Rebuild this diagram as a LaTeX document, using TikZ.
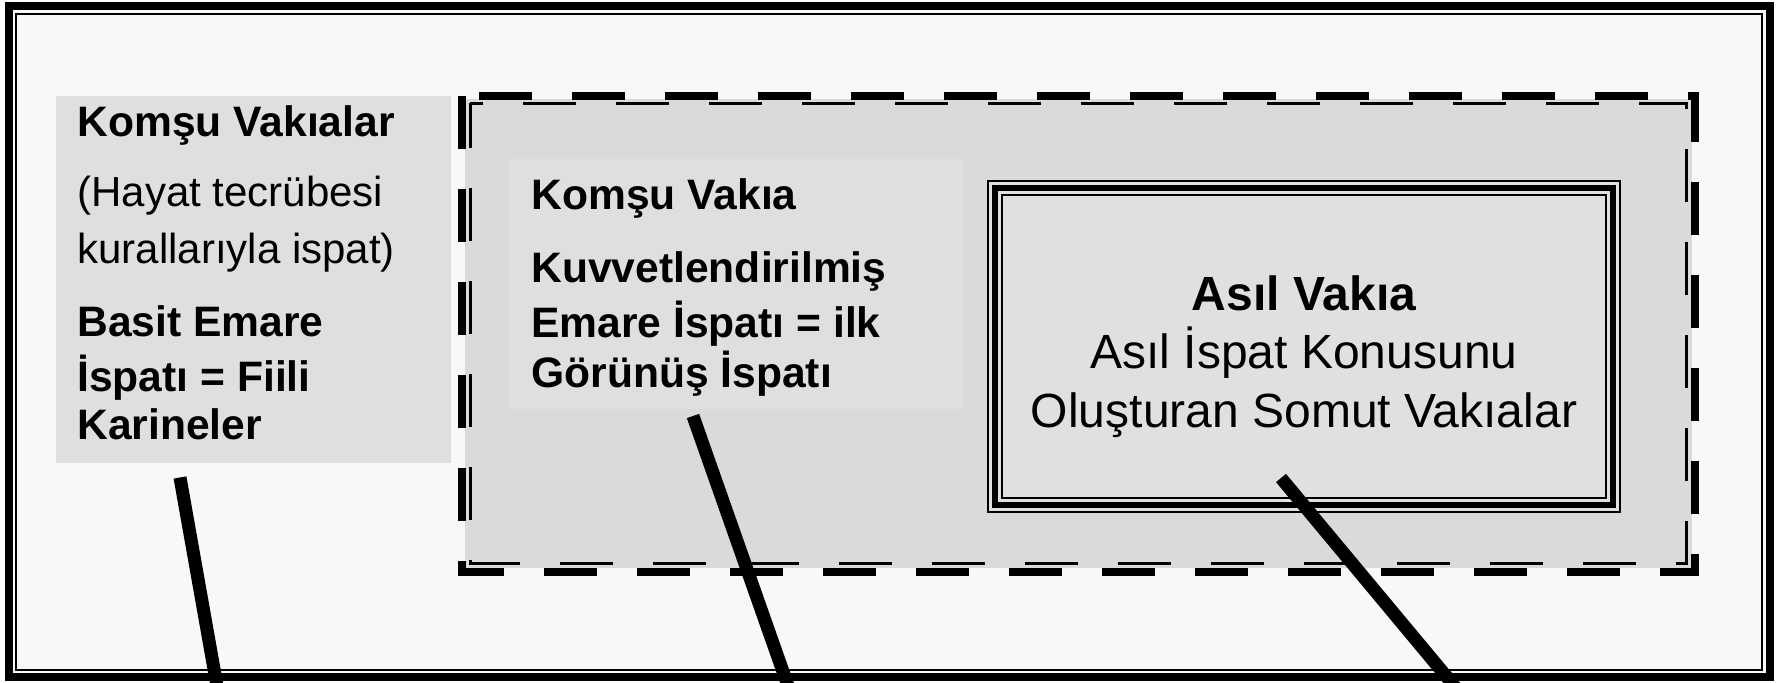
\documentclass[tikz,border=0pt]{standalone}
\usepackage{fontspec}
\setmainfont{Liberation Sans}
\usepackage{tikz}

\definecolor{frameback}{HTML}{F8F8F8}
\definecolor{sidegrey}{HTML}{DFDFDF}
\definecolor{zonegrey}{HTML}{DADADA}
\definecolor{asilgrey}{HTML}{E0E0E0}

\begin{document}
\begin{tikzpicture}[x=0.5pt,y=-0.5pt,
  box/.style={anchor=north west,inner sep=0pt,outer sep=0pt},
  txt/.style={anchor=base west,inner sep=0pt,font=\fontsize{21}{25}\selectfont},
  btxt/.style={txt,font=\fontsize{21.3}{25}\selectfont\bfseries},
  ctxt/.style={txt,anchor=base,font=\fontsize{24}{29}\selectfont},
  zoneline/.style={dash pattern=on 26.5pt off 20pt},
  pointer/.style={line width=6.5pt}]
  \useasboundingbox (0,0) rectangle (1789,683);

  % outer frame
  \node[box,draw,line width=4pt,fill=frameback,minimum width=880.5pt,minimum height=335.75pt] (frame) at (8.5,6) {};
  \draw[line width=1pt] ([shift={(7.5,8)}]frame.north west) rectangle ([shift={(-7.5,-7.5)}]frame.south east);

  % komsu vakialar
  \node[box,fill=sidegrey,minimum width=197.5pt,minimum height=183.5pt] (vakialar) at (56,96) {};

  % dashed zone
  \node[box,fill=zonegrey,minimum width=613.5pt,minimum height=234.5pt] (zone) at (465,99) {};
  \draw[zoneline,line width=4pt] ([shift={(-3,-3)}]zone.north west) rectangle ([shift={(3,4)}]zone.south east);
  \draw[zoneline,dash phase=4pt,line width=1.5pt] ([shift={(5,4.5)}]zone.north west) rectangle ([shift={(-6,-4)}]zone.south east);

  \node[box,fill=sidegrey,minimum width=227pt,minimum height=125pt] (vakia) at (509,159) {};

  % asil vakia
  \node[box,draw,line width=1pt,fill=asilgrey,minimum width=316pt,minimum height=165.5pt] (asil) at (988,181) {};
  \draw[line width=3pt] ([shift={(7,7)}]asil.north west) rectangle ([shift={(-7,-7)}]asil.south east);
  \draw[line width=1pt] ([shift={(14,14)}]asil.north west) rectangle ([shift={(-14,-14)}]asil.south east);

  % texts
  \node[btxt] (vakialar-title) at (77,137) {Komşu Vakıalar};
  \node[txt] (hayat1) at (77,207) {(Hayat tecrübesi};
  \node[txt] (hayat2) at (77,264) {kurallarıyla ispat)};
  \foreach \ly/\lt [count=\i] in {337/{Basit Emare},392/{İspatı = Fiili},440/{Karineler}}
    \node[btxt] (basit\i) at (77,\ly) {\lt};

  \node[btxt] (vakia-title) at (531,210) {Komşu Vakıa};
  \foreach \ly/\lt [count=\i] in {283/{Kuvvetlendirilmiş},338/{Emare İspatı = ilk},388/{Görünüş İspatı}}
    \node[btxt] (kuvvet\i) at (531,\ly) {\lt};

  \node[ctxt,font=\fontsize{24}{29}\selectfont\bfseries] (asil-title) at (1304,311) {Asıl Vakıa};
  \node[ctxt] (asil1) at (1304,369) {Asıl İspat Konusunu};
  \node[ctxt] (asil2) at (1304,428) {Oluşturan Somut Vakıalar};

  % pointers
  \coordinate (tip1) at (180,477.5);
  \coordinate (foot1) at (219.5,700);
  \coordinate (tip2) at (693,416);
  \coordinate (foot2) at (793,700);
  \coordinate (tip3) at (1281,478);
  \coordinate (foot3) at (1466,700);
  \draw[pointer] (tip1) -- (foot1);
  \draw[pointer] (tip2) -- (foot2);
  \draw[pointer] (tip3) -- (foot3);
\end{tikzpicture}
\end{document}
